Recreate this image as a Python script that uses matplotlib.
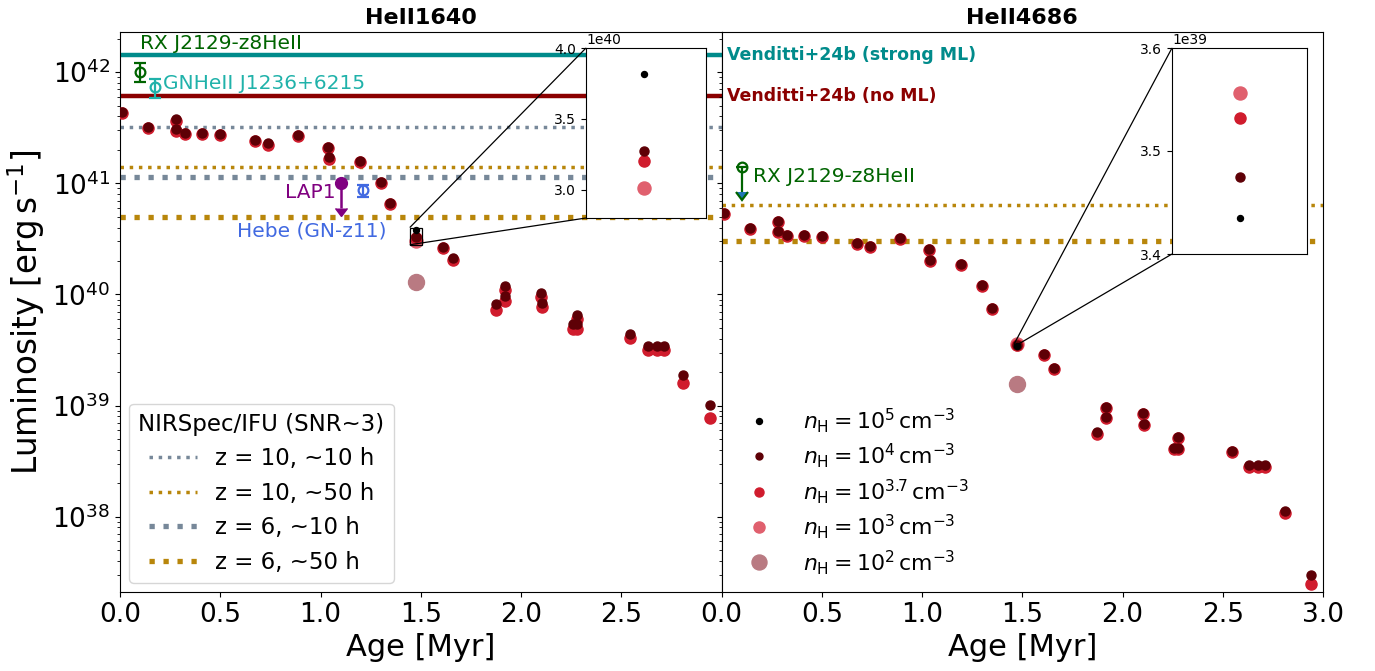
import matplotlib
matplotlib.use("Agg")
import matplotlib.pyplot as plt
from matplotlib.lines import Line2D
from mpl_toolkits.axes_grid1.inset_locator import mark_inset

# ---------------------------------------------------------------- model grid
# stellar population ages [Myr] (n_H = 10^4 and 10^3.7 runs)
age = [0.01, 0.14, 0.28, 0.28, 0.325, 0.41, 0.50, 0.675, 0.74, 0.89,
       1.035, 1.04, 1.195, 1.30, 1.347, 1.475, 1.61, 1.66, 1.875, 1.92,
       1.92, 2.10, 2.105, 2.257, 2.277, 2.277, 2.545, 2.633, 2.677, 2.713,
       2.81, 2.94]

# HeII 1640 luminosity [erg/s]
L1640_n4 = [4.4e41, 3.2e41, 3.76e41, 3.06e41, 2.85e41, 2.85e41, 2.77e41, 2.45e41,
            2.29e41, 2.72e41, 2.13e41, 1.71e41, 1.58e41, 1.03e41, 6.7e40, 3.27e40,
            2.69e40, 2.11e40, 8.2e39, 1.19e40, 9.7e39, 1.04e40, 8.3e39, 5.4e39,
            6.6e39, 5.4e39, 4.38e39, 3.44e39, 3.44e39, 3.44e39, 1.88e39, 1.02e39]
L1640_n37 = [4.3e41, 3.12e41, 3.66e41, 2.98e41, 2.78e41, 2.78e41, 2.7e41, 2.39e41,
             2.23e41, 2.65e41, 2.07e41, 1.66e41, 1.54e41, 1.0e41, 6.5e40, 3.2e40,
             2.6e40, 2.05e40, 7.26e39, 1.10e40, 8.8e39, 9.55e39, 7.7e39, 4.87e39,
             6.0e39, 4.87e39, 4.09e39, 3.17e39, 3.17e39, 3.17e39, 1.60e39, 7.66e38]

# HeII 4686 luminosity [erg/s]
L4686_n4 = [5.37e40, 3.98e40, 4.6e40, 3.70e40, 3.45e40, 3.45e40, 3.36e40, 2.92e40,
            2.75e40, 3.24e40, 2.55e40, 2.04e40, 1.87e40, 1.21e40, 7.6e39, 3.475e39,
            2.9e39, 2.17e39, 5.77e38, 9.8e38, 7.9e38, 8.55e38, 6.86e38, 4.14e38,
            5.2e38, 4.14e38, 3.89e38, 2.89e38, 2.89e38, 2.89e38, 1.12e38, 3.0e37]
L4686_n37 = [5.25e40, 3.9e40, 4.5e40, 3.62e40, 3.38e40, 3.38e40, 3.29e40, 2.86e40,
             2.69e40, 3.17e40, 2.5e40, 2.0e40, 1.83e40, 1.18e40, 7.45e39, 3.532e39,
             2.84e39, 2.12e39, 5.6e38, 9.6e38, 7.74e38, 8.4e38, 6.72e38, 4.05e38,
             5.1e38, 4.05e38, 3.8e38, 2.82e38, 2.82e38, 2.82e38, 1.07e38, 2.5e37]

# density series only run at the 1.475 Myr snapshot
age_single = [1.475]
L1640_n5 = [3.82e40]
L1640_n3 = [3.01e40]
L1640_n2 = [1.29e40]
L4686_n5 = [3.435e39]
L4686_n3 = [3.556e39]
L4686_n2 = [1.58e39]

# ------------------------------------------------------- reference levels
venditti_strong_1640 = 1.42e42
venditti_noml_1640 = 6.08e41
nirspec_1640 = {"z10_10h": 3.18e41, "z10_50h": 1.41e41, "z6_10h": 1.13e41, "z6_50h": 5.0e40}
nirspec_4686 = {"z10_50h": 6.37e40, "z6_50h": 3.03e40}

# ---------------------------------------------------------- observations
rxj_age, rxj_L1640, rxj_err1640 = 0.10, 1.0e42, [[0.18e42], [0.20e42]]
gn_age, gn_L1640, gn_err1640 = 0.175, 7.4e41, [[1.59e41], [1.37e41]]
lap1_age, lap1_L1640, lap1_arrow = 1.10, 1.01e41, 4.1e40
hebe_age, hebe_L1640, hebe_err1640 = 1.21, 8.7e40, [[1.13e40], [0.94e40]]
rxj_L4686, rxj_arrow4686 = 1.41e41, 5.7e40

# ---------------------------------------------------------------- styles
C_N5, C_N4, C_N37, C_N3, C_N2 = "#000000", "#5e0006", "#d01c2d", "#e0606e", "#b97a82"
MS_N5, MS_N4, MS_N37, MS_N3, MS_N2 = 4.3, 6.5, 8.0, 9.4, 11.5
C_GRAY, C_GOLD = "#778899", "#b8860b"
C_RX, C_GN, C_LAP, C_HEBE = "#006400", "#20b2aa", "#800080", "#4169e1"

fig, (ax1, ax2) = plt.subplots(1, 2, sharey=True, figsize=(13.75, 6.71), dpi=100)
fig.subplots_adjust(left=0.0873, right=0.9622, bottom=0.1177, top=0.9523, wspace=0)


def draw_models(ax, L_n5, L_n4, L_n37, L_n3, L_n2):
    ax.plot(age_single, L_n2, "o", color=C_N2, ms=MS_N2, zorder=4)
    ax.plot(age_single, L_n3, "o", color=C_N3, ms=MS_N3, zorder=5)
    ax.plot(age, L_n37, "o", color=C_N37, ms=MS_N37, zorder=6)
    ax.plot(age, L_n4, "o", color=C_N4, ms=MS_N4, zorder=7)
    ax.plot(age_single, L_n5, "o", color=C_N5, ms=MS_N5, zorder=8)


# ------------------------------------------------------------ HeII 1640
ax = ax1
ax.axhline(venditti_strong_1640, color="darkcyan", lw=3.2, zorder=2)
ax.axhline(venditti_noml_1640, color="darkred", lw=3.2, zorder=2)
h1 = ax.axhline(nirspec_1640["z10_10h"], color=C_GRAY, ls=":", lw=2.5, zorder=2)
h2 = ax.axhline(nirspec_1640["z10_50h"], color=C_GOLD, ls=":", lw=2.5, zorder=2)
h3 = ax.axhline(nirspec_1640["z6_10h"], color=C_GRAY, ls=":", lw=3.8, zorder=2)
h4 = ax.axhline(nirspec_1640["z6_50h"], color=C_GOLD, ls=":", lw=3.8, zorder=2)

draw_models(ax, L1640_n5, L1640_n4, L1640_n37, L1640_n3, L1640_n2)

ax.errorbar(rxj_age, rxj_L1640, yerr=rxj_err1640, fmt="o", mfc="none", mec=C_RX,
            ecolor=C_RX, ms=7, mew=1.6, elinewidth=1.6, capsize=4, capthick=1.6, zorder=9)
ax.errorbar(gn_age, gn_L1640, yerr=gn_err1640, fmt="o", mfc="none", mec=C_GN,
            ecolor=C_GN, ms=7, mew=1.6, elinewidth=1.6, capsize=4, capthick=1.6, zorder=9)
ax.errorbar(lap1_age, lap1_L1640, yerr=lap1_arrow, uplims=True, fmt="o", color=C_LAP,
            ms=8.5, elinewidth=1.8, capsize=4, zorder=9)
ax.errorbar(hebe_age, hebe_L1640, yerr=hebe_err1640, fmt="o", mfc="none", mec=C_HEBE,
            ecolor=C_HEBE, ms=7, mew=1.6, elinewidth=1.6, capsize=4, capthick=1.6, zorder=9)

ax.text(0.10, 1.80e42, "RX J2129-z8HeII", color=C_RX, fontsize=14.5, va="center")
ax.text(0.215, 7.9e41, "GNHeII J1236+6215", color=C_GN, fontsize=14.5, va="center")
ax.text(1.075, 8.3e40, "LAP1", color=C_LAP, fontsize=14.5, ha="right", va="center")
ax.text(1.33, 3.75e40, "Hebe (GN-z11)", color=C_HEBE, fontsize=14.5, ha="right", va="center")

ax.set_yscale("log")
ax.set_ylim(2.1e37, 2.3e42)
ax.set_xlim(0, 3.0)
ax.set_xticks([0, 0.5, 1.0, 1.5, 2.0, 2.5])
ax.set_title("HeII1640", fontweight="bold", fontsize=16)
ax.set_xlabel("Age [Myr]", fontsize=22)
ax.set_ylabel(r"Luminosity [$\mathrm{erg\,s^{-1}}$]", fontsize=23.5)
ax.tick_params(labelsize=19)

leg1 = ax.legend([h1, h2, h3, h4],
                 ["z = 10, ~10 h", "z = 10, ~50 h", "z = 6, ~10 h", "z = 6, ~50 h"],
                 title="NIRSpec/IFU (SNR~3)", loc="lower left", fontsize=16.5,
                 title_fontsize=16.5, handlelength=2.1, borderaxespad=0.4)

# ------------------------------------------------------------ HeII 4686
ax = ax2
g2 = ax.axhline(nirspec_4686["z10_50h"], color=C_GOLD, ls=":", lw=2.5, zorder=2)
g4 = ax.axhline(nirspec_4686["z6_50h"], color=C_GOLD, ls=":", lw=3.8, zorder=2)

draw_models(ax, L4686_n5, L4686_n4, L4686_n37, L4686_n3, L4686_n2)

ax.errorbar(rxj_age, rxj_L4686, yerr=rxj_arrow4686, uplims=True, fmt="o", mfc="none",
            mec=C_RX, ecolor=C_RX, ms=7, mew=1.6, elinewidth=1.6, capsize=4, zorder=9)
ax.text(0.155, 1.16e41, "RX J2129-z8HeII", color=C_RX, fontsize=14.5, va="center")
ax.text(0.025, venditti_strong_1640, "Venditti+24b (strong ML)", color="darkcyan",
        fontsize=12.5, fontweight="bold", va="center")
ax.text(0.025, venditti_noml_1640, "Venditti+24b (no ML)", color="darkred",
        fontsize=12.5, fontweight="bold", va="center")

ax.set_xlim(0, 3.0)
ax.set_xticks([0, 0.5, 1.0, 1.5, 2.0, 2.5, 3.0])
ax.set_title("HeII4686", fontweight="bold", fontsize=16)
ax.set_xlabel("Age [Myr]", fontsize=22)
ax.tick_params(labelsize=19)

dens_handles = [
    Line2D([], [], ls="none", marker="o", color=C_N5, ms=4.3),
    Line2D([], [], ls="none", marker="o", color=C_N4, ms=5.0),
    Line2D([], [], ls="none", marker="o", color=C_N37, ms=6.5),
    Line2D([], [], ls="none", marker="o", color=C_N3, ms=8.0),
    Line2D([], [], ls="none", marker="o", color=C_N2, ms=10.8),
]
dens_labels = [
    r"$n_\mathrm{H} = 10^{5}\,\mathrm{cm^{-3}}$",
    r"$n_\mathrm{H} = 10^{4}\,\mathrm{cm^{-3}}$",
    r"$n_\mathrm{H} = 10^{3.7}\,\mathrm{cm^{-3}}$",
    r"$n_\mathrm{H} = 10^{3}\,\mathrm{cm^{-3}}$",
    r"$n_\mathrm{H} = 10^{2}\,\mathrm{cm^{-3}}$",
]
ax.legend(dens_handles, dens_labels, loc="lower left", frameon=False, fontsize=15.8,
          labelspacing=0.3, borderaxespad=0.0, bbox_to_anchor=(0.012, 0.012),
          handletextpad=1.0)

# ---------------------------------------------------------------- zoom-ins
W, H = 1375.0, 671.0
axins1 = fig.add_axes([586 / W, 1 - 218 / H, 120 / W, 170 / H])
draw_models(axins1, L1640_n5, L1640_n4, L1640_n37, L1640_n3, L1640_n2)
axins1.set_xlim(1.445, 1.507)
axins1.set_ylim(2.8e40, 4.0e40)
axins1.set_xticks([])
axins1.set_yticks([3.0e40, 3.5e40, 4.0e40])
axins1.tick_params(labelsize=10)
mark_inset(ax1, axins1, loc1=2, loc2=3, fc="none", ec="black", lw=0.9, zorder=10)

axins2 = fig.add_axes([1172 / W, 1 - 254 / H, 135 / W, 206 / H])
draw_models(axins2, L4686_n5, L4686_n4, L4686_n37, L4686_n3, L4686_n2)
axins2.set_xlim(1.46, 1.49)
axins2.set_ylim(3.4e39, 3.6e39)
axins2.set_xticks([])
axins2.set_yticks([3.4e39, 3.5e39, 3.6e39])
axins2.tick_params(labelsize=10)
mark_inset(ax2, axins2, loc1=2, loc2=3, fc="none", ec="black", lw=0.9, zorder=10)

fig.savefig("out.png", dpi=100)
